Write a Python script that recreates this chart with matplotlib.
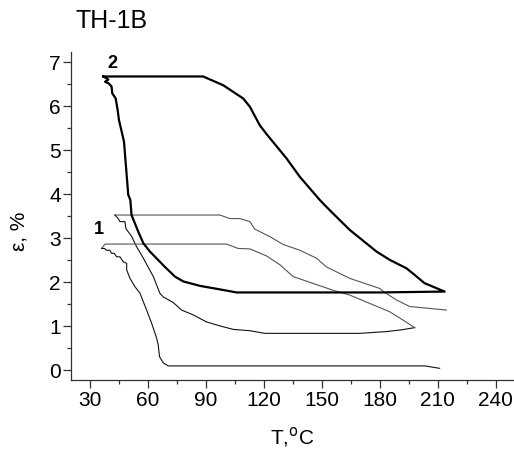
import matplotlib
matplotlib.use('Agg')
import matplotlib.pyplot as plt
from matplotlib.ticker import MultipleLocator

plt.rcParams['font.family'] = ['Liberation Sans', 'DejaVu Sans']

# Curve 2 (bold loop): heating branch then cooling branch
t_c2 = [36.9, 88.6, 99.0, 109.3, 112.8, 117.9, 121.4, 131.7, 138.6, 149.0, 154.1,
        164.5, 178.3, 185.2, 193.8, 197.2, 203.2, 213.6, 180.0, 160.0, 130.0,
        105.9, 97.2, 86.9, 78.3, 74.0, 68.8, 61.0, 57.6, 55.0, 51.5, 50.9, 49.8,
        47.6, 45.0, 44.3, 43.3, 41.5, 41.2, 39.8, 37.8, 39.5, 36.9]
e_c2 = [6.68, 6.68, 6.48, 6.18, 5.99, 5.57, 5.37, 4.82, 4.40, 3.87, 3.64,
        3.19, 2.70, 2.51, 2.32, 2.20, 1.98, 1.79, 1.77, 1.77, 1.77,
        1.77, 1.84, 1.92, 2.02, 2.13, 2.35, 2.70, 2.89, 3.15, 3.53, 3.87, 3.99,
        5.20, 5.69, 5.92, 6.18, 6.30, 6.45, 6.52, 6.56, 6.61, 6.68]

# Curve 1, upper heating branch
t_h1 = [42.9, 97.2, 102.4, 107.6, 112.8, 115.3, 123.1, 130.0, 138.6, 147.2, 152.4,
        164.5, 180.0, 182.6, 188.6, 195.5, 214.5]
e_h1 = [3.53, 3.53, 3.45, 3.45, 3.38, 3.21, 3.04, 2.86, 2.73, 2.55, 2.35,
        2.09, 1.86, 1.77, 1.60, 1.45, 1.37]

# Curve 1, cooling branch from 3.5 %
t_k1 = [42.9, 44.6, 45.5, 48.1, 48.6, 51.5, 54.1, 57.6, 62.8, 66.2, 67.9, 73.1,
        77.4, 83.4, 90.3, 97.2, 104.2, 112.8, 120.5, 169.7, 183.4, 191.2, 198.1]
e_k1 = [3.53, 3.45, 3.38, 3.38, 3.22, 3.05, 2.81, 2.55, 2.13, 1.75, 1.67, 1.54,
        1.37, 1.26, 1.10, 1.01, 0.93, 0.90, 0.84, 0.84, 0.88, 0.92, 0.97]

# Curve 1, lower heating branch (back from the tip)
t_h2 = [198.1, 192.1, 185.2, 174.8, 164.5, 155.8, 135.2, 128.3, 121.4, 112.8,
        106.7, 100.7, 37.8, 36.0]
e_h2 = [0.97, 1.14, 1.33, 1.52, 1.71, 1.82, 2.13, 2.40, 2.60, 2.76,
        2.77, 2.87, 2.87, 2.77]

# Curve 1, cooling branch from 2.8 %
t_k2 = [36.0, 37.5, 38.6, 40.3, 41.2, 42.5, 43.8, 45.5, 47.2, 49.0, 49.0, 50.7,
        53.3, 55.9, 59.3, 61.9, 64.5, 65.3, 66.0, 67.9, 70.5, 203.3, 211.0]
e_k2 = [2.77, 2.77, 2.73, 2.73, 2.66, 2.66, 2.58, 2.58, 2.47, 2.43, 2.28, 2.09,
        1.90, 1.75, 1.37, 1.07, 0.73, 0.58, 0.31, 0.17, 0.10, 0.10, 0.045]

fig = plt.figure(figsize=(5.14, 4.5), dpi=100)
ax = fig.add_axes([0.1375, 0.1556, 0.8644, 0.7282])

ax.plot(t_h1, e_h1, color='#555555', lw=0.8)
ax.plot(t_k1, e_k1, color='#111111', lw=0.8)
ax.plot(t_h2, e_h2, color='#555555', lw=0.8)
ax.plot(t_k2, e_k2, color='#111111', lw=0.8)
ax.plot(t_c2, e_c2, color='black', lw=1.6)

ax.text(41.6, 6.98, '2', fontsize=13, fontweight='bold', ha='center', va='center')
ax.text(34.6, 3.20, '1', fontsize=13, fontweight='bold', ha='center', va='center')

ax.set_xlim(20, 250)
ax.set_ylim(-0.22, 7.23)
ax.xaxis.set_major_locator(MultipleLocator(30))
ax.xaxis.set_minor_locator(MultipleLocator(15))
ax.yaxis.set_major_locator(MultipleLocator(1))
ax.yaxis.set_minor_locator(MultipleLocator(0.5))
ax.set_xticks(range(30, 241, 30))

for s in ['top', 'right']:
    ax.spines[s].set_visible(False)
for s in ['left', 'bottom']:
    ax.spines[s].set_color('#333333')
    ax.spines[s].set_linewidth(0.9)

ax.tick_params(which='major', direction='out', length=6, width=0.9,
               labelsize=15, color='#333333')
ax.tick_params(which='minor', direction='out', length=3, width=0.9, color='#333333')
ax.tick_params(axis='y', pad=1)
ax.tick_params(axis='x', pad=2)

fig.text(0.5690, 0.0289, 'T,$^{\\mathrm{o}}$C', fontsize=15, ha='center', va='center')
fig.text(0.037, 0.487, 'ε, %', fontsize=15, rotation=90, ha='center', va='center')
fig.text(0.217, 0.954, 'TH-1B', fontsize=18, ha='center', va='center')

fig.savefig('out.png', dpi=100)
